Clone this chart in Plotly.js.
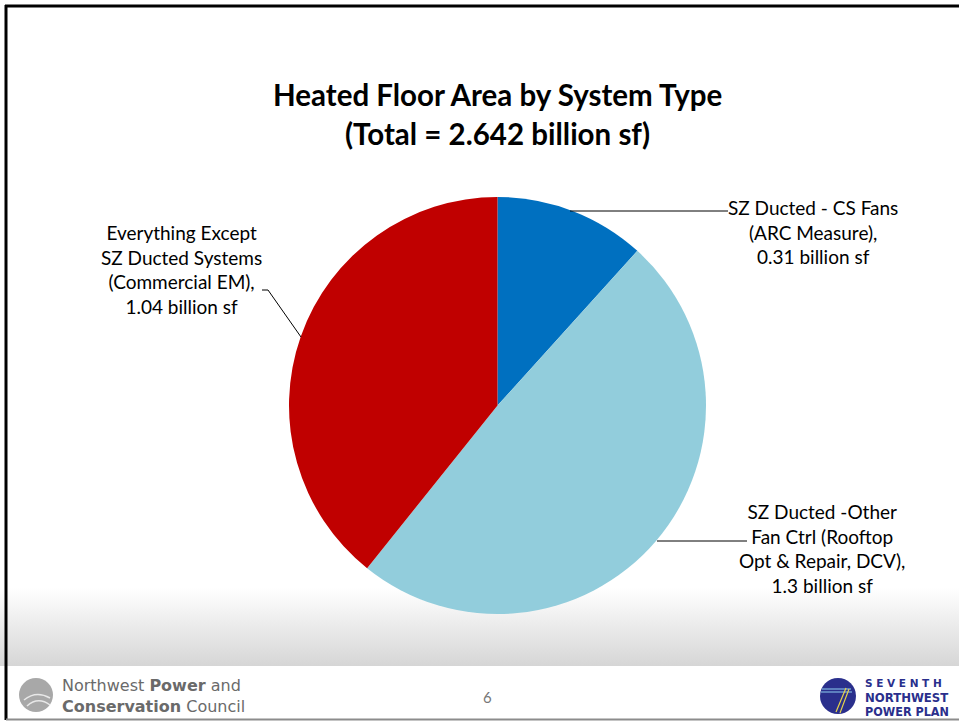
<!DOCTYPE html>
<html>
<head>
<meta charset="utf-8">
<script src="https://cdn.plot.ly/plotly-3.0.1.min.js"></script>
<style>
html,body{margin:0;padding:0;background:#fff;}
#chart{width:959px;height:723px;
background:linear-gradient(to bottom,#ffffff 0px,#ffffff 588px,#d6d6d6 666px,#ffffff 666px,#ffffff 723px);}
</style>
</head>
<body>
<div id="chart"></div>
<script>
// ---- data ----
const categories = ["SZ Ducted - CS Fans (ARC Measure)", "SZ Ducted -Other Fan Ctrl (Rooftop Opt & Repair, DCV)", "Everything Except SZ Ducted Systems (Commercial EM)"];
const values = [0.31, 1.3, 1.04];
const colors = ["#0070C0", "#92CDDC", "#C00000"];
const labelTexts = [
  "SZ Ducted - CS Fans<br>(ARC Measure),<br>0.31 billion sf",
  "SZ Ducted -Other<br>Fan Ctrl (Rooftop<br>Opt & Repair, DCV),<br>1.3 billion sf",
  "Everything Except<br>SZ Ducted Systems<br>(Commercial EM),<br>1.04 billion sf"
];
const titleLines = ["Heated Floor Area by System Type", "(Total = 2.642 billion sf)"];
const pageNumber = "6";

// ---- pixel helpers ----
const W = 959, H = 723;
const X = px => px / W;
const Y = py => 1 - py / H;

const cx = 497.5, cy = 405.5, R = 208.5;

const trace = {
  type: "pie",
  labels: categories,
  values: values,
  sort: false,
  direction: "clockwise",
  rotation: 0,
  marker: {colors: colors, line: {width: 0}},
  textinfo: "none",
  hoverinfo: "label+value",
  showlegend: false,
  domain: {x: [X(cx - R), X(cx + R)], y: [Y(cy + R), Y(cy - R)]}
};

const labelFont = {family: "Lato, 'Open Sans', sans-serif", size: 19, color: "#000"};
const titleFont = {family: "Lato, sans-serif", size: 29.5, color: "#000"};
const annotations = [
  {text: "<b>" + titleLines[0] + "</b>", x: X(497), y: Y(95), xref: "paper", yref: "paper", showarrow: false,
   font: titleFont, xanchor: "center", yanchor: "middle"},
  {text: "<b>" + titleLines[1] + "</b>", x: X(497), y: Y(133), xref: "paper", yref: "paper", showarrow: false,
   font: titleFont, xanchor: "center", yanchor: "middle"},
  {text: labelTexts[0], x: X(813), y: Y(232), xref: "paper", yref: "paper", showarrow: false, font: labelFont, align: "center", xanchor: "center", yanchor: "middle"},
  {text: labelTexts[1], x: X(822), y: Y(548), xref: "paper", yref: "paper", showarrow: false, font: labelFont, align: "center", xanchor: "center", yanchor: "middle"},
  {text: labelTexts[2], x: X(181), y: Y(269), xref: "paper", yref: "paper", showarrow: false, font: labelFont, align: "center", xanchor: "center", yanchor: "middle"},
  // footer
  {text: pageNumber, x: X(487), y: Y(697), xref: "paper", yref: "paper", showarrow: false,
   font: {family: "Lato, sans-serif", size: 15, color: "#777"}, xanchor: "center", yanchor: "middle"},
  {text: "Northwest <b>Power</b> and<br><b>Conservation</b> Council", x: X(60), y: Y(696), xref: "paper", yref: "paper", showarrow: false,
   font: {family: "'DejaVu Sans', sans-serif", size: 16, color: "#6a6a6a"}, align: "left", xanchor: "left", yanchor: "middle"},
  {text: "<b>S E V E N T H</b>", x: X(863), y: Y(683), xref: "paper", yref: "paper", showarrow: false,
   font: {family: "'DejaVu Sans', sans-serif", size: 10.5, color: "#2a2f8c"}, xanchor: "left", yanchor: "middle"},
  {text: "<b>NORTHWEST</b>", x: X(863), y: Y(697), xref: "paper", yref: "paper", showarrow: false,
   font: {family: "'DejaVu Sans Condensed', 'DejaVu Sans', sans-serif", size: 13, color: "#2a2f8c"}, xanchor: "left", yanchor: "middle"},
  {text: "<b>POWER PLAN</b>", x: X(863), y: Y(711), xref: "paper", yref: "paper", showarrow: false,
   font: {family: "'DejaVu Sans Condensed', 'DejaVu Sans', sans-serif", size: 12.5, color: "#2a2f8c"}, xanchor: "left", yanchor: "middle"}
];

function line(x0, y0, x1, y1, color, width) {
  return {type: "line", xref: "paper", yref: "paper", x0: X(x0), y0: Y(y0), x1: X(x1), y1: Y(y1),
          line: {color: color, width: width}};
}
function path(d, color, width) {
  return {type: "path", xref: "paper", yref: "paper", path: d, line: {color: color, width: width}};
}
const P = (px, py) => X(px) + "," + Y(py);

const shapes = [
  // slide border
  line(5, 6, 959, 6, "#000", 3),
  line(6, 5, 6, 720, "#000", 3),
  line(6, 719.5, 959, 719.5, "#8c8c8c", 2),
  // leader lines
  line(570, 211, 728, 211, "#000", 1),
  line(657, 541, 747, 541, "#000", 1),
  path("M" + P(262, 290) + " L" + P(268, 290) + " L" + P(301, 337), "#000", 1),
  // left logo (grey globe)
  {type: "circle", xref: "paper", yref: "paper", x0: X(19), x1: X(53), y0: Y(712), y1: Y(678),
   fillcolor: "#a8a8a8", line: {width: 0}},
  path("M" + P(24, 700) + " Q" + P(36, 690) + " " + P(50, 698), "#e8e8e8", 1.5),
  path("M" + P(27, 706) + " Q" + P(38, 696) + " " + P(50, 705), "#e8e8e8", 1.5),
  // right logo (blue globe)
  {type: "circle", xref: "paper", yref: "paper", x0: X(820), x1: X(856), y0: Y(714), y1: Y(678),
   fillcolor: "#2a2f8c", line: {width: 0}},
  line(822, 689, 851, 689, "#8fd0f0", 1),
  line(821, 692, 852, 692, "#8fd0f0", 1),
  path("M" + P(846, 688) + " L" + P(836, 712), "#e8d44a", 1.2),
  path("M" + P(849, 689) + " L" + P(840, 713), "#e8d44a", 1.2)
];

const layout = {
  width: W, height: H,
  margin: {l: 0, r: 0, t: 0, b: 0},
  paper_bgcolor: "rgba(0,0,0,0)",
  plot_bgcolor: "rgba(0,0,0,0)",
  showlegend: false,
  annotations: annotations,
  shapes: shapes
};

Plotly.newPlot("chart", [trace], layout, {displayModeBar: false, staticPlot: true});
</script>
</body>
</html>
